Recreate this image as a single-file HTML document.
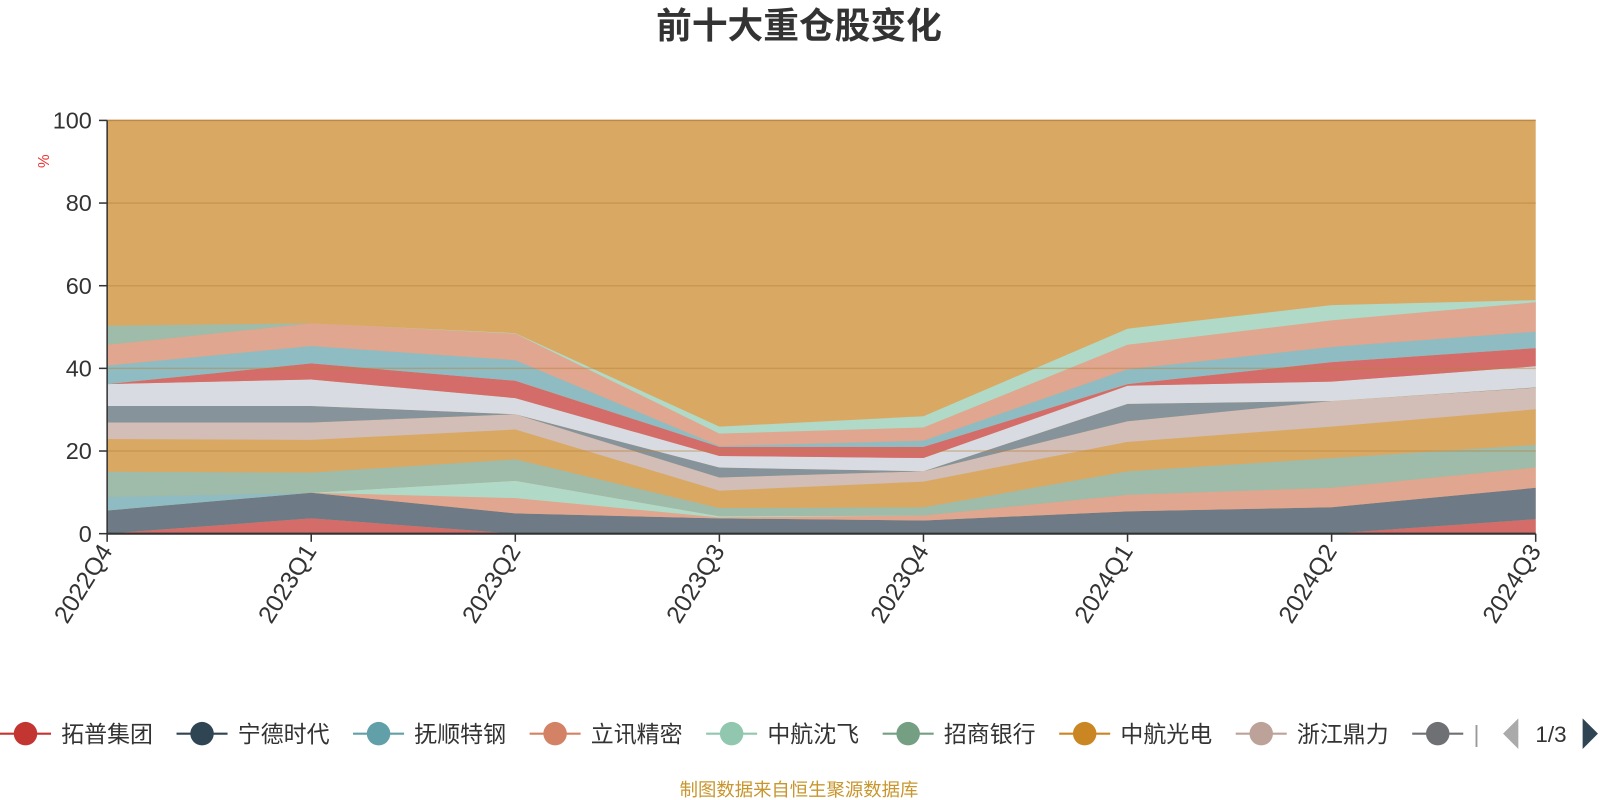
<!DOCTYPE html>
<html><head><meta charset="utf-8"><style>
html,body{margin:0;padding:0;background:#fff;width:1600px;height:800px;overflow:hidden}
svg{display:block;font-family:"Liberation Sans","Noto Sans CJK SC",sans-serif}
</style></head><body>
<svg id="s" width="1600" height="800" xmlns="http://www.w3.org/2000/svg">
<g transform="scale(1.0204)">
<text x="783" y="37" text-anchor="middle" font-size="35" font-weight="bold" fill="#333">前十大重仓股变化</text>
<rect x="105" y="118" width="1400" height="405" fill="#d9a963"/>
<g id="areas"></g>
<g stroke="#b9813a" stroke-opacity="0.45" stroke-width="1.5">
<line x1="105" x2="1505" y1="118" y2="118" stroke-opacity="0.9"/>
<line x1="105" x2="1505" y1="199" y2="199"/>
<line x1="105" x2="1505" y1="280" y2="280"/>
<line x1="105" x2="1505" y1="361" y2="361"/>
<line x1="105" x2="1505" y1="442" y2="442"/>
</g>
<line x1="105" x2="105" y1="118" y2="523" stroke="#333" stroke-width="1.5"/>
<line x1="105" x2="1505" y1="523" y2="523" stroke="#333" stroke-width="2"/>
<g stroke="#333" stroke-width="1.5">
<line x1="97" x2="105" y1="118" y2="118"/><line x1="97" x2="105" y1="199" y2="199"/>
<line x1="97" x2="105" y1="280" y2="280"/><line x1="97" x2="105" y1="361" y2="361"/>
<line x1="97" x2="105" y1="442" y2="442"/><line x1="97" x2="105" y1="523" y2="523"/>
</g>
<g font-size="23" fill="#333" text-anchor="end">
<text x="90" y="126">100</text><text x="90" y="207">80</text><text x="90" y="288">60</text>
<text x="90" y="369">40</text><text x="90" y="450">20</text><text x="90" y="531">0</text>
</g>
<text transform="translate(48,158) rotate(-90)" font-size="15" fill="#e33" text-anchor="middle">%</text>
<g id="xl" font-size="24" fill="#333"></g>
<g id="leg" font-size="22.5" fill="#333"></g>
<polygon points="1488,704 1488,734 1473,719" fill="#aaa"/>
<text x="1520" y="727" font-size="22" fill="#333" text-anchor="middle">1/3</text>
<polygon points="1551,704 1551,734 1566,719" fill="#2f4554"/>
<text x="783" y="780" font-size="18" fill="#c8962e" text-anchor="middle">制图数据来自恒生聚源数据库</text>
</g>
</svg>
<script>
var ns="http://www.w3.org/2000/svg";
var cols=["#d46d6a","#6e7b87","#8fbcc3","#e0a690","#b0d9c8","#9fbba9","#d9a963","#d2bdb7","#86939a","#d8dce2","#d46d6a","#8fbcc3","#e0a690","#b0d9c8","#9fbba9"];
var T=[
[0,3.7,0,0,0,0,0,3.5],
[5.6,9.9,4.9,3.7,3.2,5.4,6.4,11.1],
[8.9,9.9,4.9,3.7,3.2,5.4,6.4,11.1],
[8.9,9.9,8.6,3.9,4.4,9.4,11.1,16.0],
[8.9,9.9,12.8,4.2,4.4,9.4,11.1,16.0],
[15.0,14.8,18.0,6.2,6.4,15.1,18.3,21.5],
[22.9,22.7,25.2,10.4,12.6,22.2,25.9,30.1],
[26.9,26.9,28.9,13.6,15.1,27.2,32.1,35.3],
[30.9,30.9,28.9,16.0,15.1,31.4,32.1,35.4],
[36.2,37.3,32.8,18.8,18.3,35.8,36.8,40.5],
[36.2,41.2,37.0,21.0,21.0,36.2,41.5,44.9],
[40.7,45.4,42.0,21.2,22.5,39.8,45.2,48.9],
[45.7,50.9,48.4,24.2,25.7,45.7,51.6,56.0],
[45.7,50.9,48.5,25.9,28.4,49.6,55.3,56.5],
[50.3,50.9,48.5,25.9,28.4,49.6,55.3,56.5]];
function X(i){return 105+i*200}function Y(v){return 523-v*4.05}
var g=document.getElementById("areas");
for(var k=0;k<T.length;k++){var p=[];for(var i=0;i<8;i++)p.push(X(i)+","+Y(T[k][i]));
for(var i=7;i>=0;i--)p.push(X(i)+","+Y(k?T[k-1][i]:0));
var e=document.createElementNS(ns,"polygon");e.setAttribute("points",p.join(" "));e.setAttribute("fill",cols[k]);g.appendChild(e);}
var labs=["2022Q4","2023Q1","2023Q2","2023Q3","2023Q4","2024Q1","2024Q2","2024Q3"];
var xl=document.getElementById("xl");
labs.forEach(function(l,i){var t=document.createElementNS(ns,"text");t.setAttribute("transform","translate("+(X(i)+6)+",540) rotate(-58)");t.setAttribute("text-anchor","end");t.textContent=l;xl.appendChild(t);
var tk=document.createElementNS(ns,"line");tk.setAttribute("x1",X(i));tk.setAttribute("x2",X(i));tk.setAttribute("y1",523);tk.setAttribute("y2",531);tk.setAttribute("stroke","#333");tk.setAttribute("stroke-width","1.5");xl.appendChild(tk);});
var L=[["拓普集团","#c23531"],["宁德时代","#2f4554"],["抚顺特钢","#61a0a8"],["立讯精密","#d48265"],["中航沈飞","#91c7ae"],["招商银行","#749f83"],["中航光电","#ca8622"],["浙江鼎力","#bda29a"],["|","#6e7074"]];
var lg=document.getElementById("leg");
L.forEach(function(a,i){var cx=25+i*173;
var ln=document.createElementNS(ns,"line");ln.setAttribute("x1",cx-25);ln.setAttribute("x2",cx+25);ln.setAttribute("y1",719);ln.setAttribute("y2",719);ln.setAttribute("stroke",a[1]);ln.setAttribute("stroke-width","2");lg.appendChild(ln);
var c=document.createElementNS(ns,"circle");c.setAttribute("cx",cx);c.setAttribute("cy",719);c.setAttribute("r",11.5);c.setAttribute("fill",a[1]);lg.appendChild(c);
var t=document.createElementNS(ns,"text");t.setAttribute("x",cx+35);t.setAttribute("y",727);t.textContent=a[0];if(i==8){t.setAttribute("fill","#999")}lg.appendChild(t);});
</script>
</body></html>
